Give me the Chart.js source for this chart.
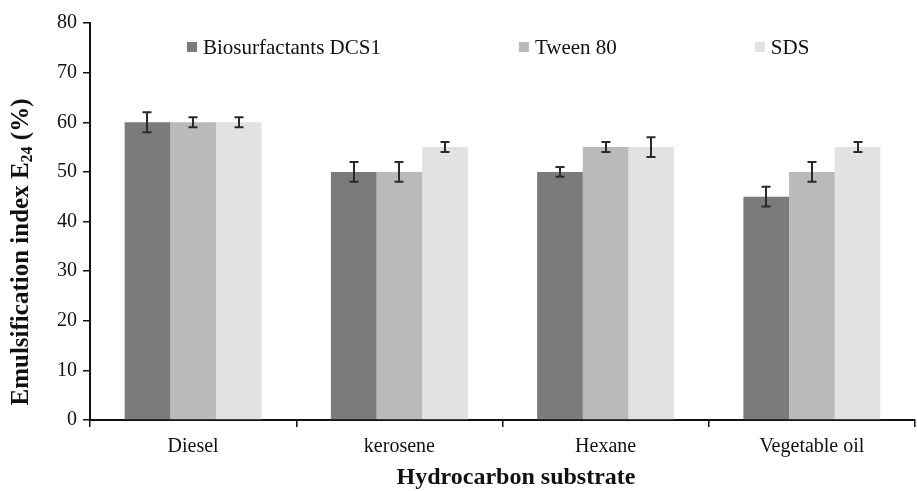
<!DOCTYPE html>
<html>
<head>
<meta charset="utf-8">
<style>
  html, body { margin: 0; padding: 0; background: #fff; }
  #wrap { width: 917px; height: 491px; position: relative; }
</style>
<script src="https://cdn.jsdelivr.net/npm/chart.js@4.4.1/dist/chart.umd.min.js"></script>
</head>
<body>
<div id="wrap"><canvas id="chart" width="917" height="491"></canvas></div>
<script>
// Emulsification index E24 (%) by hydrocarbon substrate
const substrates = ['Diesel', 'kerosene', 'Hexane', 'Vegetable oil'];
const seriesNames = ['Biosurfactants DCS1', 'Tween 80', 'SDS'];
const dcs1Values = [60, 50, 50, 45];
const tweenValues = [60, 50, 55, 50];
const sdsValues = [60, 55, 55, 55];
const dcs1Errors = [2, 2, 1, 2];
const tweenErrors = [1, 2, 1, 2];
const sdsErrors = [1, 1, 2, 1];
const yTicks = [0, 10, 20, 30, 40, 50, 60, 70, 80];
const xTitle = 'Hydrocarbon substrate';

const FONT = '"Liberation Serif", "Times New Roman", serif';
const barColors = ['#7b7b7b', '#bababa', '#e2e2e2'];

// Vertical error bars with caps, drawn on top of each bar
const errorBarPlugin = {
  id: 'errorBars',
  afterDatasetsDraw(chart) {
    const ctx = chart.ctx;
    const yScale = chart.scales.y;
    ctx.save();
    ctx.strokeStyle = '#2a2a2a';
    ctx.lineWidth = 2;
    chart.data.datasets.forEach((ds, i) => {
      const meta = chart.getDatasetMeta(i);
      meta.data.forEach((bar, j) => {
        const v = ds.data[j];
        const e = ds.errors[j];
        const x = Math.round(bar.x);
        const yHi = yScale.getPixelForValue(v + e);
        const yLo = yScale.getPixelForValue(v - e);
        ctx.beginPath();
        ctx.moveTo(x, yHi); ctx.lineTo(x, yLo);
        ctx.moveTo(x - 4.5, yHi); ctx.lineTo(x + 4.5, yHi);
        ctx.moveTo(x - 4.5, yLo); ctx.lineTo(x + 4.5, yLo);
        ctx.stroke();
      });
    });
    ctx.restore();
  }
};

// Legend row placed inside the plot, near the top
const insideLegendPlugin = {
  id: 'insideLegend',
  afterDraw(chart) {
    const ctx = chart.ctx;
    ctx.save();
    ctx.font = '21px ' + FONT;
    ctx.textBaseline = 'middle';
    ctx.textAlign = 'left';
    let x = 187;
    const yMid = 47;
    chart.data.datasets.forEach((ds) => {
      ctx.fillStyle = ds.backgroundColor;
      ctx.fillRect(x, yMid - 5, 10, 10);
      ctx.fillStyle = '#111';
      ctx.fillText(ds.label, x + 16, yMid + 1);
      x += 16 + ctx.measureText(ds.label).width + 138;
    });
    ctx.restore();
  }
};

// Axis titles: rotated y title with a subscript, and the x title below the labels
const axisTitlePlugin = {
  id: 'axisTitles',
  afterDraw(chart) {
    const ctx = chart.ctx;
    const parts = [
      { t: 'Emulsification index E', size: 25, dy: 0 },
      { t: '24', size: 16, dy: 6 },
      { t: ' (%)', size: 25, dy: 0 }
    ];
    ctx.save();
    let total = 0;
    parts.forEach(p => {
      ctx.font = 'bold ' + p.size + 'px ' + FONT;
      p.w = ctx.measureText(p.t).width;
      total += p.w;
    });
    ctx.translate(22, 252);
    ctx.rotate(-Math.PI / 2);
    ctx.fillStyle = '#111';
    ctx.textBaseline = 'middle';
    ctx.textAlign = 'left';
    let x = -total / 2;
    parts.forEach(p => {
      ctx.font = 'bold ' + p.size + 'px ' + FONT;
      ctx.fillText(p.t, x, p.dy);
      x += p.w;
    });
    ctx.restore();

    ctx.save();
    ctx.font = 'bold 24px ' + FONT;
    ctx.fillStyle = '#111';
    ctx.textAlign = 'center';
    ctx.textBaseline = 'middle';
    ctx.fillText(xTitle, 516, 478);
    ctx.restore();
  }
};

const errorSets = [dcs1Errors, tweenErrors, sdsErrors];
const valueSets = [dcs1Values, tweenValues, sdsValues];

new Chart(document.getElementById('chart'), {
  type: 'bar',
  data: {
    labels: substrates,
    datasets: seriesNames.map((name, i) => ({
      label: name,
      data: valueSets[i],
      errors: errorSets[i],
      backgroundColor: barColors[i],
      borderWidth: 0,
      categoryPercentage: 0.664,
      barPercentage: 1.0
    }))
  },
  options: {
    responsive: false,
    animation: false,
    devicePixelRatio: 1,
    layout: { padding: { top: 23, right: 2, left: 0, bottom: 0 } },
    plugins: {
      legend: { display: false },
      tooltip: { enabled: false }
    },
    scales: {
      x: {
        grid: { drawOnChartArea: false, drawTicks: true, tickLength: 7, color: '#111', lineWidth: 1.5 },
        border: { display: true, color: '#111', width: 2 },
        ticks: { color: '#111', font: { family: FONT, size: 20 }, padding: 8 },
        afterFit(scale) { scale.height = 71; }
      },
      y: {
        min: 0,
        max: 80,
        afterBuildTicks(scale) { scale.ticks = yTicks.map(v => ({ value: v })); },
        grid: { drawOnChartArea: false, drawTicks: true, tickLength: 7, color: '#111', lineWidth: 1.5 },
        border: { display: true, color: '#111', width: 2 },
        ticks: { color: '#111', font: { family: FONT, size: 20 }, padding: 6 },
        afterFit(scale) { scale.width = 90; }
      }
    }
  },
  plugins: [errorBarPlugin, insideLegendPlugin, axisTitlePlugin]
});
</script>
</body>
</html>
